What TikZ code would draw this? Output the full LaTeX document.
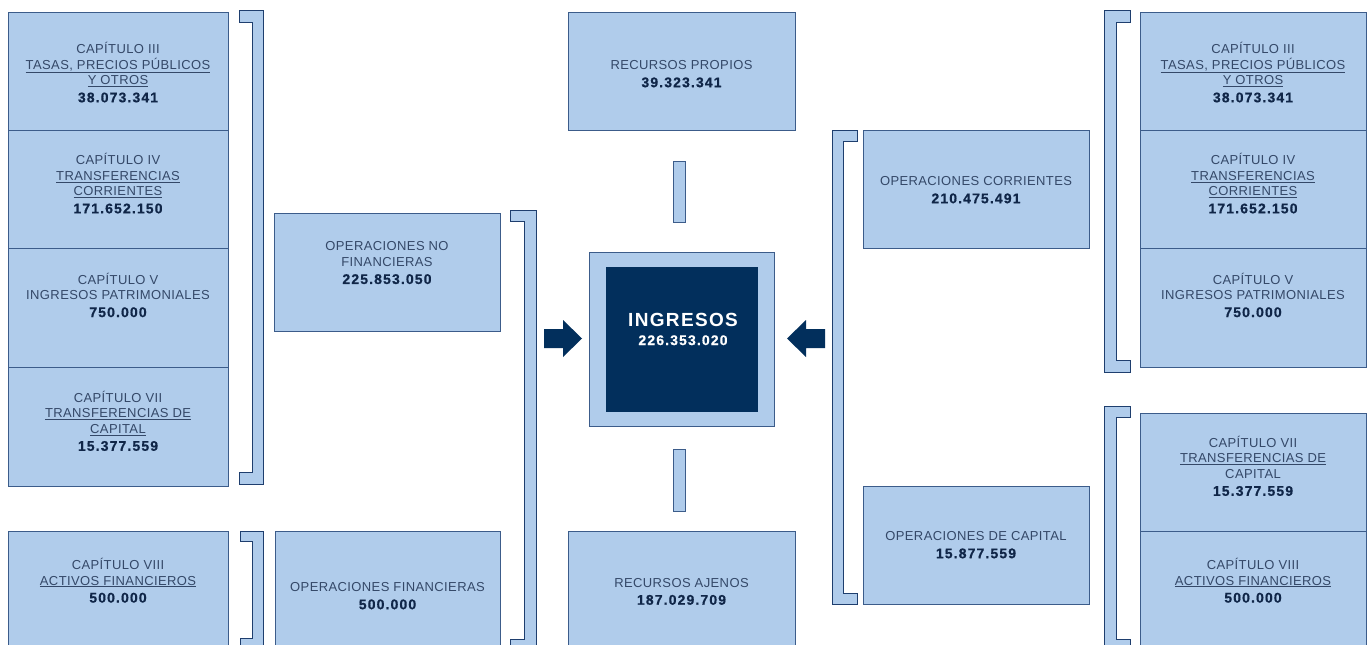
\documentclass[tikz,border=0pt]{standalone}
\usepackage{fontspec}
\setmainfont{Liberation Sans}
\newfontfamily\lblf[LetterSpace=3]{Liberation Sans}
\newfontfamily\numf[LetterSpace=8,BoldFeatures={FakeBold=0.6}]{Liberation Sans}
\newfontfamily\ingf[LetterSpace=7]{Liberation Sans}
\definecolor{fillc}{RGB}{176,204,235}
\definecolor{bordc}{RGB}{60,92,138}
\definecolor{brkc}{RGB}{30,62,110}
\definecolor{darkc}{RGB}{2,47,92}
\definecolor{lblc}{RGB}{52,72,104}
\definecolor{numc}{RGB}{16,38,72}
\newcommand\nm[1]{{\numf\bfseries\fontsize{14}{16}\selectfont\color{numc}#1}}
\newcommand\uln[1]{\underline{#1}}
\newcommand\boxnode[5]{\node[box, minimum width={(#4)-(#2)}, minimum height={(#5)-(#3)}] (#1) at ({((#2)+(#4))/2},{((#3)+(#5))/2}) {};}
% right-closing bracket "]" : x1 arm start, x2 inner, x3 outer, ytop, ybot, t
\newcommand\rbrk[6]{\draw[brk] (#1,#4) -- (#3,#4) -- (#3,#5) -- (#1,#5) -- (#1,{(#5)-(#6)}) -- (#2,{(#5)-(#6)}) -- (#2,{(#4)+(#6)}) -- (#1,{(#4)+(#6)}) -- cycle;}
% left-opening bracket "[" : x1 outer, x2 inner, x3 arm end
\newcommand\lbrk[6]{\draw[brk] (#3,#4) -- (#1,#4) -- (#1,#5) -- (#3,#5) -- (#3,{(#5)-(#6)}) -- (#2,{(#5)-(#6)}) -- (#2,{(#4)+(#6)}) -- (#3,{(#4)+(#6)}) -- cycle;}
\tikzset{
  box/.style={draw=bordc, fill=fillc, line width=0.9pt, inner sep=0pt, rectangle},
  brk/.style={draw=brkc, fill=fillc, line width=0.9pt},
  lbl/.style={align=center, text=lblc, font=\lblf\fontsize{13}{15.5}\selectfont, inner sep=0pt},
  blockarrow/.style={fill=darkc, draw=none},
}
\begin{document}
\begin{tikzpicture}[x=1pt,y=-1pt]
\useasboundingbox (0,0) rectangle (1371,645);
\fill[white] (0,0) rectangle (1371,645);
\begin{scope}
\clip (0,0) rectangle (1371,645);
% brackets
\rbrk{239}{252}{263}{10}{484}{12}
\rbrk{240}{252}{263}{531}{648}{10}
\rbrk{510}{524}{536}{210}{650}{11}
\lbrk{832}{843}{857}{130}{604}{11}
\lbrk{1104}{1116}{1130}{10}{372}{12}
\lbrk{1104}{1116}{1130}{406}{650}{11}
% left column
\boxnode{c3l}{8}{12}{228}{130}
\boxnode{c4l}{8}{130}{228}{248}
\boxnode{c5l}{8}{248}{228}{367}
\boxnode{c7l}{8}{367}{228}{486}
\boxnode{c8l}{8}{531}{228}{670}
% second column
\boxnode{onf}{274}{213}{500}{331}
\boxnode{ofi}{275}{531}{500}{670}
% center
\boxnode{rp}{568}{12}{795}{130}
\boxnode{bar1}{673}{161}{685}{222}
\boxnode{ingo}{589}{252}{774}{426}
\node[fill=darkc, draw=none, minimum width=152pt, minimum height=145pt, inner sep=0pt] (ingi) at (682,339.5) {};
\boxnode{bar2}{673}{449}{685}{511}
\boxnode{ra}{568}{531}{795}{670}
% right middle
\boxnode{oc}{863}{130}{1089}{248}
\boxnode{ocap}{863}{486}{1089}{604}
% right column
\boxnode{c3r}{1140}{12}{1366}{130}
\boxnode{c4r}{1140}{130}{1366}{248}
\boxnode{c5r}{1140}{248}{1366}{367}
\boxnode{c7r}{1140}{413}{1366}{531}
\boxnode{c8r}{1140}{531}{1366}{670}
\end{scope}
% block arrows
\fill[blockarrow] (544,329) -- (563,329) -- (563,320) -- (582,338.5) -- (563,357) -- (563,348) -- (544,348) -- cycle;
\fill[blockarrow] (825,329) -- (806,329) -- (806,320) -- (787,338.5) -- (806,357) -- (806,348) -- (825,348) -- cycle;
% texts
\node[lbl] (t3l) at (118,72.5) {CAPÍTULO III\\\uln{TASAS, PRECIOS PÚBLICOS}\\\uln{Y OTROS}\\[2pt]\nm{38.073.341}};
\node[lbl] (t4l) at (118,183.5) {CAPÍTULO IV\\\uln{TRANSFERENCIAS}\\\uln{CORRIENTES}\\[2pt]\nm{171.652.150}};
\node[lbl] (t5l) at (118,295) {CAPÍTULO V\\INGRESOS PATRIMONIALES\\[2pt]\nm{750.000}};
\node[lbl] (t7l) at (118,421) {CAPÍTULO VII\\\uln{TRANSFERENCIAS DE}\\\uln{CAPITAL}\\[2pt]\nm{15.377.559}};
\node[lbl] (t8l) at (118,580.5) {CAPÍTULO VIII\\\uln{ACTIVOS FINANCIEROS}\\[2pt]\nm{500.000}};
\node[lbl] (tonf) at (387,263) {OPERACIONES NO\\FINANCIERAS\\[2pt]\nm{225.853.050}};
\node[lbl] (tofi) at (387.5,596) {OPERACIONES FINANCIERAS\\[2pt]\nm{500.000}};
\node[lbl] (trp) at (681.5,74) {RECURSOS PROPIOS\\[2pt]\nm{39.323.341}};
\node[lbl] (tra) at (681.5,591.5) {RECURSOS AJENOS\\[2pt]\nm{187.029.709}};
\node[align=center, text=white, inner sep=0pt] (ting) at (683,329) {{\ingf\bfseries\fontsize{19}{21}\selectfont INGRESOS}\\[7pt]{\numf\bfseries\fontsize{14}{16}\selectfont 226.353.020}};
\node[lbl] (toc) at (976,190) {OPERACIONES CORRIENTES\\[2pt]\nm{210.475.491}};
\node[lbl] (tocap) at (976,545) {OPERACIONES DE CAPITAL\\[2pt]\nm{15.877.559}};
\node[lbl] (t3r) at (1253,72.5) {CAPÍTULO III\\\uln{TASAS, PRECIOS PÚBLICOS}\\\uln{Y OTROS}\\[2pt]\nm{38.073.341}};
\node[lbl] (t4r) at (1253,183.5) {CAPÍTULO IV\\\uln{TRANSFERENCIAS}\\\uln{CORRIENTES}\\[2pt]\nm{171.652.150}};
\node[lbl] (t5r) at (1253,295) {CAPÍTULO V\\INGRESOS PATRIMONIALES\\[2pt]\nm{750.000}};
\node[lbl] (t7r) at (1253,466) {CAPÍTULO VII\\\uln{TRANSFERENCIAS DE}\\CAPITAL\\[2pt]\nm{15.377.559}};
\node[lbl] (t8r) at (1253,580.5) {CAPÍTULO VIII\\\uln{ACTIVOS FINANCIEROS}\\[2pt]\nm{500.000}};
\end{tikzpicture}
\end{document}
